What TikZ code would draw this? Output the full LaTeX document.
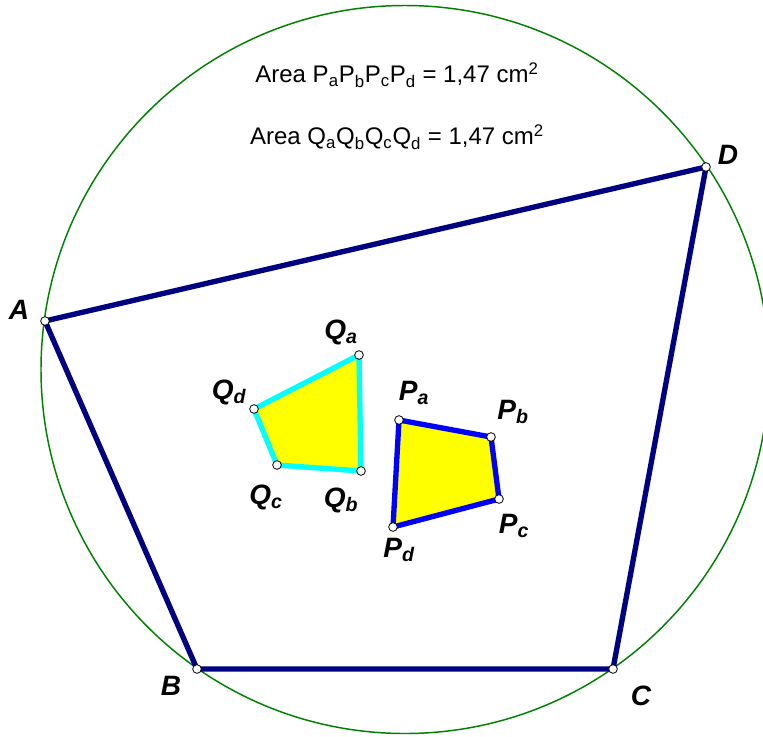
\documentclass[tikz,border=0pt]{standalone}
\usepackage{fontspec}
\setmainfont{Liberation Sans}
\definecolor{gnavy}{RGB}{0,0,128}
\definecolor{gblue}{RGB}{0,0,255}
\definecolor{gcyan}{RGB}{0,255,255}
\definecolor{ggreen}{RGB}{0,128,0}
\definecolor{gyellow}{RGB}{255,255,0}
\tikzset{
  gvertex/.style={circle, draw=black, fill=white, minimum size=6.5pt,
                  inner sep=0pt, line width=0.6pt},
  gside/.style={line width=4pt, line join=round, line cap=round},
  gcircle/.style={draw=ggreen, line width=1.1pt},
  glabel/.style={font=\fontsize{21}{24}\selectfont\bfseries\itshape,
                 inner sep=0pt},
  gnote/.style={font=\fontsize{18}{21}\selectfont, inner sep=0pt}
}
\begin{document}
\begin{tikzpicture}[x=0.75pt, y=-0.75pt]
  \useasboundingbox (0,0) rectangle (763,736);
  % point name/x/y
  \foreach \n/\x/\y in {%
      A/45/321, B/197/669, C/613/669, D/706/167,
      Qa/359/355, Qb/361/471, Qc/277/465, Qd/254/409,
      Pa/399/420, Pb/491/437, Pc/499/499, Pd/393/527}
    { \coordinate (\n) at (\x, \y); }
  \coordinate (O) at (405, 369.5);
  % the circumcircle
  \draw[gcircle] (O) circle (364);
  % the quadrilaterals
  \draw[gside, draw=gnavy] (A) -- (B) -- (C) -- (D) -- cycle;
  \draw[gside, draw=gcyan, fill=gyellow] (Qa) -- (Qb) -- (Qc) -- (Qd) -- cycle;
  \draw[gside, draw=gblue, fill=gyellow] (Pa) -- (Pb) -- (Pc) -- (Pd) -- cycle;
  \foreach \n in {A, B, C, D, Qa, Qb, Qc, Qd, Pa, Pb, Pc, Pd}
    { \node[gvertex] (v\n) at (\n) {}; }
  % labels: name/x/y/text
  \foreach \n/\x/\y/\t in {%
      A/19/310/A, B/171/686/B, C/641/696/C, D/728/155/D,
      Qa/341/332/Q\textsubscript{a}, Qb/341/500/Q\textsubscript{b},
      Qc/266/497/Q\textsubscript{c}, Qd/229/392/Q\textsubscript{d},
      Pa/414/393/P\textsubscript{a}, Pb/513/412/P\textsubscript{b},
      Pc/514/526/P\textsubscript{c}, Pd/399/550/P\textsubscript{d}}
    { \node[glabel] (l\n) at (\x, \y) {\t}; }
  % the areas
  \node[gnote] (areaP) at (397, 75)
    {Area P\textsubscript{a}P\textsubscript{b}P\textsubscript{c}P\textsubscript{d} = 1,47 cm\textsuperscript{2}};
  \node[gnote] (areaQ) at (397, 137)
    {Area Q\textsubscript{a}Q\textsubscript{b}Q\textsubscript{c}Q\textsubscript{d} = 1,47 cm\textsuperscript{2}};
\end{tikzpicture}
\end{document}
